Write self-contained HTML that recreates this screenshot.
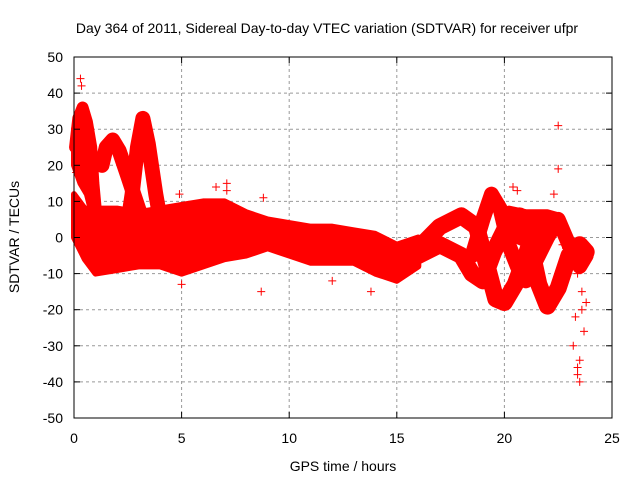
<!DOCTYPE html>
<html><head><meta charset="utf-8"><style>
body{margin:0;background:#fff;}
text{font-family:"Liberation Sans",sans-serif;font-size:14px;fill:#000;}
</style></head><body>
<svg id="c" width="640" height="480" xmlns="http://www.w3.org/2000/svg">
<text x="327" y="33" text-anchor="middle">Day 364 of 2011, Sidereal Day-to-day VTEC variation (SDTVAR) for receiver ufpr</text>
<text x="343" y="471" text-anchor="middle">GPS time / hours</text>
<text transform="translate(19,237) rotate(-90)" text-anchor="middle">SDTVAR / TECUs</text>
<g id="grid"></g>
<g id="marks"></g>
<rect x="74" y="57" width="538" height="361" fill="none" stroke="#000" stroke-width="1"/>
<g id="ticks"></g>
</svg>
<script>
const xTicks=[0,5,10,15,20,25];
const yTicks=[-50,-40,-30,-20,-10,0,10,20,30,40,50];
const bandHours=[0,0.5,1,2,3,4,5,6,7,8,9,10,11,12,13,14,15,16];
const bandUpper=[12,8,8,8,7,8,9,10,10,7,5,4,3,3,2,1,-2,0];
const bandLower=[0,-6,-10,-9,-8,-8,-10,-8,-6,-5,-3,-5,-7,-7,-7,-10,-12,-8];
const band2Hours=[20.2,21,22,22.6];
const band2Upper=[8,7,7,6];
const band2Lower=[0,-2,0,2];
const band3Hours=[0,0.3,0.6,0.9];
const band3Upper=[30,36,34,25];
const band3Lower=[20,15,12,5];
const trackE1=[[0.05,25],[0.2,33],[0.4,36],[0.6,32],[0.8,25],[0.9,15],[1.1,2]];
const trackE2=[[1.3,20],[1.5,25],[1.8,27],[2.1,24],[2.5,17],[3,8],[3.5,0]];
const trackE3=[[2.4,0],[2.7,12],[2.95,25],[3.2,33],[3.45,26],[3.8,12],[4.1,2]];
const trackR1=[[15,-8],[16,-3],[17,3],[18,6],[18.7,3],[19.2,-8],[19.6,-17],[20,-18],[20.5,-13],[21,-5],[21.5,4],[22,4]];
const trackR2=[[16,-5],[17,-2],[18,-5],[18.5,-10],[19,-12],[19.5,-4],[20,2],[20.7,6],[21.2,-2],[21.6,-13],[22,-19],[22.5,-14],[23,-5],[23.5,-2],[23.8,-4]];
const trackR3=[[18.5,-5],[19,5],[19.4,12],[19.8,8],[20.2,-2],[20.6,-8],[21,-12],[21.5,-6],[22,0],[22.5,5],[23,-2],[23.5,-8],[23.8,-5]];
const outliers=[[0.3,44],[0.35,42],[0.7,30],[0.1,18],[4.9,12],[5,-13],[6.6,14],[7.1,15],[7.1,13],[8.8,11],[8.7,-15],[12,-12],[13.8,-15],[20.4,14],[20.6,13],[22.3,12],[22.5,19],[22.5,31],[22.7,-2],[23.4,-10],[23.6,-20],[23.3,-22],[23.2,-30],[23.4,-36],[23.5,-34],[23.4,-38],[23.5,-40],[23.7,-26],[23.8,-18],[23.6,-15]];
const X=h=>74+h*538/25, Y=v=>237.5-v*361/100;
const NS="http://www.w3.org/2000/svg";
function mk(t,a,p){const e=document.createElementNS(NS,t);for(const k in a)e.setAttribute(k,a[k]);p.appendChild(e);return e;}
const grid=document.getElementById('grid'),ticks=document.getElementById('ticks'),marks=document.getElementById('marks');
xTicks.forEach(t=>{
 if(t>0&&t<25){const l=mk('line',{x1:X(t),x2:X(t),y1:57,y2:418,stroke:'#999','stroke-dasharray':'3,3'},grid);}
 mk('line',{x1:X(t),x2:X(t),y1:418,y2:412,stroke:'#000'},ticks);mk('line',{x1:X(t),x2:X(t),y1:57,y2:63,stroke:'#000'},ticks);
 const s=mk('text',{x:X(t),y:443,'text-anchor':'middle'},ticks);s.textContent=t;
 
});
yTicks.forEach(t=>{
 if(t>-50&&t<50){const l=mk('line',{x1:74,x2:612,y1:Y(t),y2:Y(t),stroke:'#999','stroke-dasharray':'3,3'},grid);}
 mk('line',{x1:74,x2:80,y1:Y(t),y2:Y(t),stroke:'#000'},ticks);mk('line',{x1:606,x2:612,y1:Y(t),y2:Y(t),stroke:'#000'},ticks);
 const s=mk('text',{x:63,y:Y(t)+5,'text-anchor':'end'},ticks);s.textContent=t;
 
});
function band(hs,up,lo,name){
 let pts=hs.map((h,i)=>X(h)+','+Y(up[i]));
 for(let i=hs.length-1;i>=0;i--)pts.push(X(hs[i])+','+Y(lo[i]));
 const p=mk('polygon',{points:pts.join(' '),fill:'#f00',stroke:'#f00','stroke-width':6,'stroke-linejoin':'round'},marks);
 
}
band(bandHours,bandUpper,bandLower,'main-band');
band(band2Hours,band2Upper,band2Lower,'late-band');
band(band3Hours,band3Upper,band3Lower,'early-band');
function track(arr,w,name){
 const p=mk('polyline',{points:arr.map(d=>X(d[0])+','+Y(d[1])).join(' '),fill:'none',stroke:'#f00','stroke-width':w,'stroke-linejoin':'round','stroke-linecap':'round'},marks);
 
}
track(trackE1,12,'track-early-1');track(trackE2,15,'track-early-2');track(trackE3,15,'track-early-3');
track(trackR1,17,'track-late-1');track(trackR2,17,'track-late-2');track(trackR3,15,'track-late-3');
outliers.forEach(d=>{
 const p=mk('path',{d:`M${X(d[0])-4},${Y(d[1])}h8M${X(d[0])},${Y(d[1])-4}v8`,stroke:'#f00','stroke-width':1},marks);
 
});
</script>
</body></html>
